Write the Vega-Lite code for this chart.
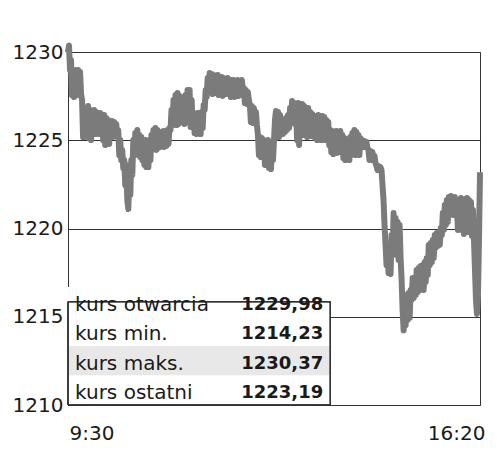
{
  "$schema": "https://vega.github.io/schema/vega-lite/v6.json",
  "autosize": "none",
  "width": 412,
  "height": 353,
  "padding": {"left": 68, "top": 52, "right": 20, "bottom": 55},
  "background": "white",
  "config": {
    "view": {"stroke": "#333333", "strokeWidth": 1},
    "font": "DejaVu Sans"
  },
  "layer": [
    {
      "data": {
        "format": {"parse": {"t": "date:'%H:%M'"}},
        "values": [
{"t":"09:30","v":1229.98},{"t":"09:31","v":1230.37},{"t":"09:32","v":1228.98},{"t":"09:33","v":1229.55},{"t":"09:34","v":1227.56},{"t":"09:35","v":1228.70},{"t":"09:36","v":1227.45},{"t":"09:37","v":1228.41},{"t":"09:38","v":1228.98},{"t":"09:39","v":1227.73},
{"t":"09:40","v":1228.98},{"t":"09:41","v":1227.56},{"t":"09:42","v":1228.87},{"t":"09:43","v":1227.62},{"t":"09:44","v":1227.28},{"t":"09:45","v":1225.18},{"t":"09:46","v":1226.15},{"t":"09:47","v":1225.18},{"t":"09:48","v":1225.86},{"t":"09:49","v":1226.71},
{"t":"09:50","v":1226.94},{"t":"09:51","v":1225.13},{"t":"09:52","v":1226.71},{"t":"09:53","v":1225.01},{"t":"09:54","v":1226.43},{"t":"09:55","v":1225.47},{"t":"09:56","v":1226.71},{"t":"09:57","v":1225.35},{"t":"09:58","v":1226.60},{"t":"09:59","v":1225.58},
{"t":"10:00","v":1226.43},{"t":"10:01","v":1225.35},{"t":"10:02","v":1226.54},{"t":"10:03","v":1225.58},{"t":"10:04","v":1226.37},{"t":"10:05","v":1225.01},{"t":"10:06","v":1226.43},{"t":"10:07","v":1224.73},{"t":"10:08","v":1226.26},{"t":"10:09","v":1225.13},
{"t":"10:10","v":1226.15},{"t":"10:11","v":1224.79},{"t":"10:12","v":1226.03},{"t":"10:13","v":1225.24},{"t":"10:14","v":1226.09},{"t":"10:15","v":1225.18},{"t":"10:16","v":1226.03},{"t":"10:17","v":1225.24},{"t":"10:18","v":1225.92},{"t":"10:19","v":1225.18},
{"t":"10:20","v":1225.58},{"t":"10:21","v":1224.16},{"t":"10:22","v":1225.01},{"t":"10:23","v":1223.88},{"t":"10:24","v":1224.45},{"t":"10:25","v":1223.43},{"t":"10:26","v":1223.88},{"t":"10:27","v":1222.46},{"t":"10:28","v":1223.60},{"t":"10:29","v":1221.61},
{"t":"10:30","v":1221.10},{"t":"10:31","v":1222.75},{"t":"10:32","v":1221.90},{"t":"10:33","v":1223.88},{"t":"10:34","v":1223.03},{"t":"10:35","v":1225.01},{"t":"10:36","v":1224.16},{"t":"10:37","v":1225.41},{"t":"10:38","v":1224.45},{"t":"10:39","v":1225.58},
{"t":"10:40","v":1224.16},{"t":"10:41","v":1225.30},{"t":"10:42","v":1224.05},{"t":"10:43","v":1225.18},{"t":"10:44","v":1223.88},{"t":"10:45","v":1225.01},{"t":"10:46","v":1223.60},{"t":"10:47","v":1225.01},{"t":"10:48","v":1223.48},{"t":"10:49","v":1224.73},
{"t":"10:50","v":1223.48},{"t":"10:51","v":1225.01},{"t":"10:52","v":1223.88},{"t":"10:53","v":1225.30},{"t":"10:54","v":1224.45},{"t":"10:55","v":1225.58},{"t":"10:56","v":1224.56},{"t":"10:57","v":1225.69},{"t":"10:58","v":1224.45},{"t":"10:59","v":1225.58},
{"t":"11:00","v":1224.56},{"t":"11:01","v":1225.41},{"t":"11:02","v":1224.62},{"t":"11:03","v":1225.47},{"t":"11:04","v":1224.67},{"t":"11:05","v":1225.52},{"t":"11:06","v":1224.62},{"t":"11:07","v":1225.41},{"t":"11:08","v":1224.67},{"t":"11:09","v":1225.58},
{"t":"11:10","v":1224.79},{"t":"11:11","v":1225.69},{"t":"11:12","v":1225.58},{"t":"11:13","v":1226.71},{"t":"11:14","v":1225.86},{"t":"11:15","v":1227.28},{"t":"11:16","v":1226.15},{"t":"11:17","v":1227.56},{"t":"11:18","v":1225.86},{"t":"11:19","v":1227.68},
{"t":"11:20","v":1225.92},{"t":"11:21","v":1227.51},{"t":"11:22","v":1226.43},{"t":"11:23","v":1227.45},{"t":"11:24","v":1226.03},{"t":"11:25","v":1227.28},{"t":"11:26","v":1225.92},{"t":"11:27","v":1227.56},{"t":"11:28","v":1226.71},{"t":"11:29","v":1227.85},
{"t":"11:30","v":1226.15},{"t":"11:31","v":1227.85},{"t":"11:32","v":1225.75},{"t":"11:33","v":1227.28},{"t":"11:34","v":1226.03},{"t":"11:35","v":1226.54},{"t":"11:36","v":1225.41},{"t":"11:37","v":1226.43},{"t":"11:38","v":1225.35},{"t":"11:39","v":1226.54},
{"t":"11:40","v":1225.41},{"t":"11:41","v":1226.43},{"t":"11:42","v":1225.35},{"t":"11:43","v":1226.60},{"t":"11:44","v":1225.69},{"t":"11:45","v":1227.00},{"t":"11:46","v":1226.71},{"t":"11:47","v":1227.85},{"t":"11:48","v":1227.45},{"t":"11:49","v":1228.53},
{"t":"11:50","v":1227.85},{"t":"11:51","v":1228.81},{"t":"11:52","v":1227.96},{"t":"11:53","v":1228.75},{"t":"11:54","v":1227.62},{"t":"11:55","v":1228.70},{"t":"11:56","v":1227.85},{"t":"11:57","v":1228.64},{"t":"11:58","v":1227.68},{"t":"11:59","v":1228.70},
{"t":"12:00","v":1227.56},{"t":"12:01","v":1228.58},{"t":"12:02","v":1227.73},{"t":"12:03","v":1228.58},{"t":"12:04","v":1227.51},{"t":"12:05","v":1228.53},{"t":"12:06","v":1227.85},{"t":"12:07","v":1228.47},{"t":"12:08","v":1227.62},{"t":"12:09","v":1228.53},
{"t":"12:10","v":1227.73},{"t":"12:11","v":1228.41},{"t":"12:12","v":1227.45},{"t":"12:13","v":1228.41},{"t":"12:14","v":1227.68},{"t":"12:15","v":1228.41},{"t":"12:16","v":1227.45},{"t":"12:17","v":1228.30},{"t":"12:18","v":1227.56},{"t":"12:19","v":1228.41},
{"t":"12:20","v":1227.51},{"t":"12:21","v":1228.36},{"t":"12:22","v":1227.73},{"t":"12:23","v":1228.41},{"t":"12:24","v":1227.85},{"t":"12:25","v":1227.96},{"t":"12:26","v":1227.11},{"t":"12:27","v":1227.85},{"t":"12:28","v":1227.05},{"t":"12:29","v":1227.73},
{"t":"12:30","v":1227.28},{"t":"12:31","v":1227.00},{"t":"12:32","v":1226.03},{"t":"12:33","v":1226.94},{"t":"12:34","v":1225.98},{"t":"12:35","v":1226.83},{"t":"12:36","v":1226.15},{"t":"12:37","v":1226.60},{"t":"12:38","v":1225.86},{"t":"12:39","v":1225.30},
{"t":"12:40","v":1224.16},{"t":"12:41","v":1225.18},{"t":"12:42","v":1224.05},{"t":"12:43","v":1225.13},{"t":"12:44","v":1224.45},{"t":"12:45","v":1225.01},{"t":"12:46","v":1223.60},{"t":"12:47","v":1224.90},{"t":"12:48","v":1223.88},{"t":"12:49","v":1225.01},
{"t":"12:50","v":1223.43},{"t":"12:51","v":1224.84},{"t":"12:52","v":1223.37},{"t":"12:53","v":1224.73},{"t":"12:54","v":1223.88},{"t":"12:55","v":1225.01},{"t":"12:56","v":1226.15},{"t":"12:57","v":1226.66},{"t":"12:58","v":1225.58},{"t":"12:59","v":1226.60},
{"t":"13:00","v":1225.18},{"t":"13:01","v":1226.43},{"t":"13:02","v":1225.41},{"t":"13:03","v":1226.15},{"t":"13:04","v":1225.35},{"t":"13:05","v":1225.92},{"t":"13:06","v":1225.47},{"t":"13:07","v":1226.26},{"t":"13:08","v":1225.58},{"t":"13:09","v":1226.43},
{"t":"13:10","v":1225.69},{"t":"13:11","v":1226.83},{"t":"13:12","v":1226.15},{"t":"13:13","v":1227.22},{"t":"13:14","v":1226.26},{"t":"13:15","v":1227.11},{"t":"13:16","v":1225.92},{"t":"13:17","v":1226.71},{"t":"13:18","v":1225.01},{"t":"13:19","v":1227.11},
{"t":"13:20","v":1224.73},{"t":"13:21","v":1227.00},{"t":"13:22","v":1225.47},{"t":"13:23","v":1227.05},{"t":"13:24","v":1225.30},{"t":"13:25","v":1226.94},{"t":"13:26","v":1225.41},{"t":"13:27","v":1226.71},{"t":"13:28","v":1225.18},{"t":"13:29","v":1226.83},
{"t":"13:30","v":1225.58},{"t":"13:31","v":1226.60},{"t":"13:32","v":1225.24},{"t":"13:33","v":1226.49},{"t":"13:34","v":1225.41},{"t":"13:35","v":1226.37},{"t":"13:36","v":1225.13},{"t":"13:37","v":1226.32},{"t":"13:38","v":1225.01},{"t":"13:39","v":1226.43},
{"t":"13:40","v":1225.18},{"t":"13:41","v":1226.26},{"t":"13:42","v":1225.01},{"t":"13:43","v":1226.37},{"t":"13:44","v":1225.24},{"t":"13:45","v":1226.32},{"t":"13:46","v":1225.01},{"t":"13:47","v":1226.15},{"t":"13:48","v":1225.13},{"t":"13:49","v":1226.03},
{"t":"13:50","v":1224.73},{"t":"13:51","v":1225.58},{"t":"13:52","v":1224.33},{"t":"13:53","v":1225.52},{"t":"13:54","v":1224.22},{"t":"13:55","v":1225.47},{"t":"13:56","v":1224.45},{"t":"13:57","v":1225.52},{"t":"13:58","v":1224.28},{"t":"13:59","v":1225.41},
{"t":"14:00","v":1224.45},{"t":"14:01","v":1225.52},{"t":"14:02","v":1224.33},{"t":"14:03","v":1225.30},{"t":"14:04","v":1223.99},{"t":"14:05","v":1225.13},{"t":"14:06","v":1223.88},{"t":"14:07","v":1225.07},{"t":"14:08","v":1224.05},{"t":"14:09","v":1225.01},
{"t":"14:10","v":1223.88},{"t":"14:11","v":1225.18},{"t":"14:12","v":1224.16},{"t":"14:13","v":1225.41},{"t":"14:14","v":1224.45},{"t":"14:15","v":1225.58},{"t":"14:16","v":1224.16},{"t":"14:17","v":1225.47},{"t":"14:18","v":1224.45},{"t":"14:19","v":1225.30},
{"t":"14:20","v":1224.16},{"t":"14:21","v":1225.13},{"t":"14:22","v":1224.73},{"t":"14:23","v":1225.01},{"t":"14:24","v":1224.62},{"t":"14:25","v":1224.96},{"t":"14:26","v":1224.62},{"t":"14:27","v":1224.90},{"t":"14:28","v":1224.56},{"t":"14:29","v":1224.45},
{"t":"14:30","v":1223.88},{"t":"14:31","v":1224.39},{"t":"14:32","v":1223.88},{"t":"14:33","v":1224.33},{"t":"14:34","v":1223.88},{"t":"14:35","v":1224.11},{"t":"14:36","v":1223.71},{"t":"14:37","v":1223.54},{"t":"14:38","v":1223.31},{"t":"14:39","v":1223.54},
{"t":"14:40","v":1223.31},{"t":"14:41","v":1223.48},{"t":"14:42","v":1223.31},{"t":"14:43","v":1222.46},{"t":"14:44","v":1221.61},{"t":"14:45","v":1220.20},{"t":"14:46","v":1219.07},{"t":"14:47","v":1217.93},{"t":"14:48","v":1218.50},{"t":"14:49","v":1217.48},
{"t":"14:50","v":1218.10},{"t":"14:51","v":1217.42},{"t":"14:52","v":1219.63},{"t":"14:53","v":1218.50},{"t":"14:54","v":1220.88},{"t":"14:55","v":1218.78},{"t":"14:56","v":1220.59},{"t":"14:57","v":1218.50},{"t":"14:58","v":1220.37},{"t":"14:59","v":1218.22},
{"t":"15:00","v":1220.20},{"t":"15:01","v":1218.33},{"t":"15:02","v":1217.08},{"t":"15:03","v":1215.38},{"t":"15:04","v":1214.23},{"t":"15:05","v":1215.67},{"t":"15:06","v":1214.53},{"t":"15:07","v":1216.23},{"t":"15:08","v":1214.82},{"t":"15:09","v":1216.35},
{"t":"15:10","v":1214.93},{"t":"15:11","v":1216.52},{"t":"15:12","v":1215.95},{"t":"15:13","v":1217.20},{"t":"15:14","v":1216.06},{"t":"15:15","v":1217.08},{"t":"15:16","v":1216.23},{"t":"15:17","v":1217.65},{"t":"15:18","v":1216.40},{"t":"15:19","v":1217.76},
{"t":"15:20","v":1216.52},{"t":"15:21","v":1217.88},{"t":"15:22","v":1216.80},{"t":"15:23","v":1217.93},{"t":"15:24","v":1216.52},{"t":"15:25","v":1218.10},{"t":"15:26","v":1216.97},{"t":"15:27","v":1218.33},{"t":"15:28","v":1217.37},{"t":"15:29","v":1219.07},
{"t":"15:30","v":1217.93},{"t":"15:31","v":1219.18},{"t":"15:32","v":1218.10},{"t":"15:33","v":1219.35},{"t":"15:34","v":1218.33},{"t":"15:35","v":1219.63},{"t":"15:36","v":1218.90},{"t":"15:37","v":1219.75},{"t":"15:38","v":1219.01},{"t":"15:39","v":1219.80},
{"t":"15:40","v":1219.07},{"t":"15:41","v":1220.03},{"t":"15:42","v":1219.63},{"t":"15:43","v":1220.88},{"t":"15:44","v":1219.92},{"t":"15:45","v":1221.33},{"t":"15:46","v":1220.20},{"t":"15:47","v":1221.61},{"t":"15:48","v":1220.37},{"t":"15:49","v":1221.78},
{"t":"15:50","v":1220.76},{"t":"15:51","v":1221.84},{"t":"15:52","v":1220.93},{"t":"15:53","v":1221.73},{"t":"15:54","v":1220.76},{"t":"15:55","v":1221.78},{"t":"15:56","v":1220.93},{"t":"15:57","v":1221.33},{"t":"15:58","v":1219.92},{"t":"15:59","v":1221.33},
{"t":"16:00","v":1220.03},{"t":"16:01","v":1221.73},{"t":"16:02","v":1219.92},{"t":"16:03","v":1221.67},{"t":"16:04","v":1219.69},{"t":"16:05","v":1221.61},{"t":"16:06","v":1219.92},{"t":"16:07","v":1221.73},{"t":"16:08","v":1219.80},{"t":"16:09","v":1221.61},
{"t":"16:10","v":1220.03},{"t":"16:11","v":1221.50},{"t":"16:12","v":1219.58},{"t":"16:13","v":1221.05},{"t":"16:14","v":1219.35},{"t":"16:15","v":1217.65},{"t":"16:16","v":1215.95},{"t":"16:17","v":1215.16},{"t":"16:18","v":1216.23},{"t":"16:19","v":1219.35},
{"t":"16:20","v":1223.19}
        ]
      },
      "mark": {"type": "line", "color": "#7b7b7b", "strokeWidth": 6, "strokeJoin": "round", "strokeCap": "butt"},
      "encoding": {
        "x": {
          "field": "t", "type": "temporal",
          "scale": {"domain": [{"year": 1900, "month": 1, "date": 1, "hours": 9, "minutes": 30}, {"year": 1900, "month": 1, "date": 1, "hours": 16, "minutes": 20}]},
          "axis": {
            "title": null, "grid": false, "ticks": false, "domain": false,
            "values": [{"year": 1900, "month": 1, "date": 1, "hours": 9, "minutes": 30}, {"year": 1900, "month": 1, "date": 1, "hours": 16, "minutes": 20}],
            "format": "%-H:%M",
            "labelAlign": {"expr": "datum.index == 0 ? 'left' : 'right'"},
            "labelOffset": {"expr": "datum.index == 0 ? 1 : 5"},
            "labelFontSize": 20, "labelColor": "#1a1a1a", "labelPadding": 18, "labelFont": "DejaVu Sans"
          }
        },
        "y": {
          "field": "v", "type": "quantitative",
          "scale": {"domain": [1210, 1230], "nice": false, "zero": false},
          "axis": {
            "title": null, "values": [1210, 1215, 1220, 1225, 1230], "format": "d",
            "grid": true, "gridColor": "#333333", "gridWidth": 1, "gridOpacity": 1,
            "ticks": false, "domain": false,
            "labelFontSize": 20, "labelColor": "#1a1a1a", "labelPadding": 5, "labelFont": "DejaVu Sans"
          }
        }
      }
    },
    {
      "data": {
        "values": [
          {"label": "kurs otwarcia", "value": "1229,98"},
          {"label": "kurs min.", "value": "1214,23"},
          {"label": "kurs maks.", "value": "1230,37"},
          {"label": "kurs ostatni", "value": "1223,19"}
        ]
      },
      "encoding": {
        "y": {
          "field": "label", "type": "nominal", "sort": null,
          "scale": {"range": [235, 353], "paddingInner": 0, "paddingOuter": 0},
          "axis": null
        }
      },
      "layer": [
        {
          "mark": {"type": "rect", "strokeWidth": 0},
          "encoding": {
            "x": {"datum": {"year": 1900, "month": 1, "date": 1, "hours": 9, "minutes": 30}, "type": "temporal"},
            "x2": {"datum": {"year": 1900, "month": 1, "date": 1, "hours": 13, "minutes": 51}},
            "color": {
              "condition": {"test": "datum.label === 'kurs maks.'", "value": "#e8e8e8"},
              "value": "white"
            }
          }
        },
        {
          "mark": {"type": "rect", "fill": null, "fillOpacity": 0, "stroke": "#333333", "strokeWidth": 1},
          "encoding": {
            "x": {"datum": {"year": 1900, "month": 1, "date": 1, "hours": 9, "minutes": 30}, "type": "temporal"},
            "x2": {"datum": {"year": 1900, "month": 1, "date": 1, "hours": 13, "minutes": 51}},
            "y": {"datum": "kurs otwarcia", "type": "nominal"},
            "y2": {"datum": "kurs ostatni", "bandPosition": 1}
          }
        },
        {
          "mark": {"type": "text", "align": "left", "baseline": "middle", "dx": 7, "dy": 3, "fontSize": 20, "font": "DejaVu Sans", "color": "#1a1a1a"},
          "encoding": {
            "x": {"datum": {"year": 1900, "month": 1, "date": 1, "hours": 9, "minutes": 30}, "type": "temporal"},
            "text": {"field": "label"}
          }
        },
        {
          "mark": {"type": "text", "align": "right", "baseline": "middle", "dy": 3, "fontSize": 18, "fontWeight": "bold", "font": "DejaVu Sans", "color": "#1a1a1a"},
          "encoding": {
            "x": {"datum": {"year": 1900, "month": 1, "date": 1, "hours": 13, "minutes": 44}, "type": "temporal"},
            "text": {"field": "value"}
          }
        }
      ]
    }
  ],
  "resolve": {"scale": {"y": "independent"}}
}
